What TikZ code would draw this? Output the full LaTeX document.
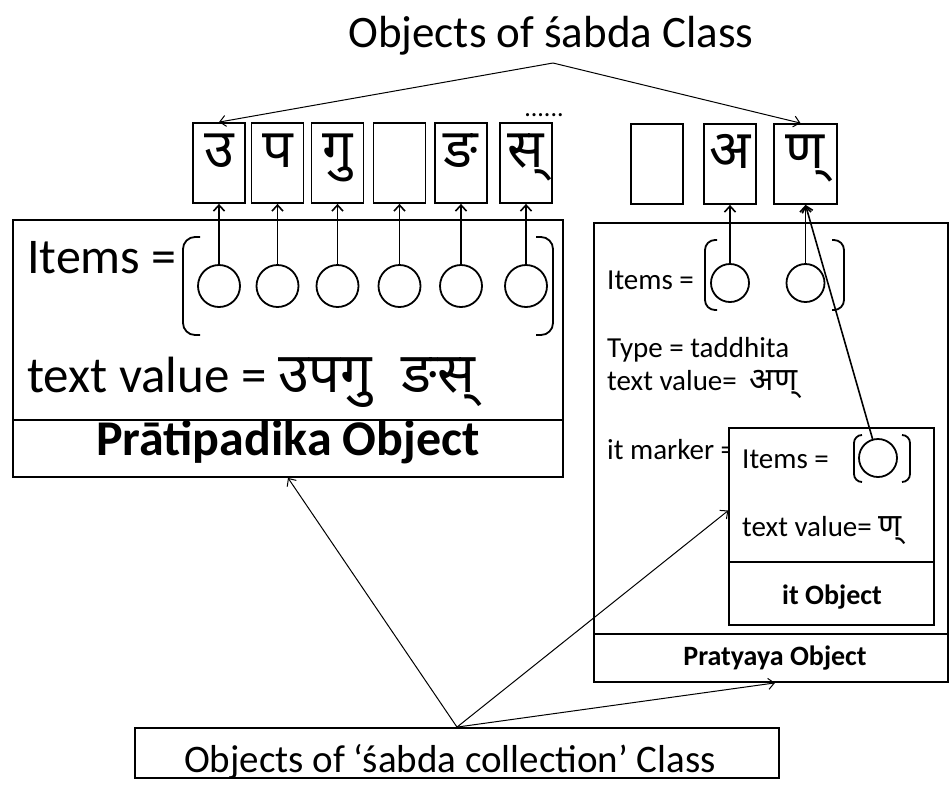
\documentclass[tikz,border=0pt]{standalone}
\usepackage{fontspec}
\setmainfont{Carlito}
\newfontfamily\deva[Script=Devanagari]{Noto Sans}
\usetikzlibrary{arrows.meta}
\newcommand\fsz[1]{\fontsize{#1}{#1}\selectfont}
\tikzset{
  >={Straight Barb[length=6pt,width=11pt]},
  charbox/.style={draw,line width=1.8pt,minimum width=52,inner sep=0,
    text height=44,text depth=36,font=\deva\fsz{54}},
  item/.style={draw,circle,line width=1.8pt,inner sep=0,minimum size=42},
  smallitem/.style={item,minimum size=38},
  objbox/.style={draw,line width=1.8pt,inner sep=0,fill=white},
  txt/.style={anchor=base west,inner sep=0},
  link/.style={->,line width=1.6pt},
  coll/.style={->,line width=1pt},
  brak/.style={line width=1.8pt,rounded corners=12},
}
\begin{document}
\begin{tikzpicture}[x=1pt,y=-1pt]
\useasboundingbox (0,0) rectangle (950,785);
% title
\node[anchor=base,font=\fsz{45}] (title) at (551,47) {Objects of śabda Class};
\coordinate (apex) at (553,63);

% letters of the word
\node[charbox] (c1) at (219,163) {उ};
\node[charbox] (c2) at (277.5,163) {प};
\node[charbox] (c3) at (337.5,163) {गु};
\node[charbox] (c4) at (399.5,163) {};
\node[charbox] (c5) at (461,163) {ङ};
\node[charbox] (c6) at (526,163) {स्};
\node[anchor=base,font=\fsz{26}] (dots) at (544,116) {......};
\node[charbox] (c7) at (657,164) {};
\node[charbox] (c8) at (730,164) {अ};
\node[charbox,minimum width=63] (c9) at (805.5,164) {ण्};

\draw[->,line width=1pt] (apex) -- (c1.north);
\draw[->,line width=1pt] (apex) -- ([xshift=-5pt]c9.north);

% pratipadika object
\node[objbox,minimum width=550,minimum height=257] (prati) at (288,348.5) {};
\draw[line width=1.2pt] (13,420) -- (563,420);
\node[txt,font=\fsz{50}] (pitems) at (27,273) {Items =};
\draw[brak] (200,237) -- (183,237) -- (183,335) -- (200,335);
\draw[brak] (536,237) -- (553,237) -- (553,335) -- (536,335);
\foreach \i/\x in {1/219,2/277.5,3/337.5,4/399.5,5/461,6/526}{
  \node[item] (p\i) at (\x,286) {};
  \draw[link] (p\i) -- (c\i);
}
\node[txt,font=\fsz{51}] (pval) at (27,392) {text value = {\deva\fsz{56}उपगु~~ङस्}};
\node[anchor=base,font=\bfseries\fsz{50}] (pname) at (288,455) {Prātipadika Object};

% pratyaya object
\node[objbox,minimum width=354,minimum height=459] (praty) at (771,452.5) {};
\draw[line width=1.2pt] (594,634) -- (948,634);
\node[txt,font=\fsz{29}] (ritems) at (607,289) {Items =};
\draw[brak,rounded corners=10] (717,240) -- (705,240) -- (705,310) -- (717,310);
\draw[brak,rounded corners=10] (832,240) -- (844,240) -- (844,310) -- (832,310);
\node[smallitem] (r1) at (730,283) {};
\node[smallitem] (r2) at (805.5,283) {};
\draw[link] (r1) -- (c8);
\draw[link] (r2) -- (c9);
\node[txt,font=\fsz{29}] (rtype) at (607,357) {Type = taddhita};
\node[txt,font=\fsz{29}] (rval) at (607,390) {text value=~ {\deva\fsz{32}अण्}};
\node[txt,font=\fsz{29}] (rit) at (607,459) {it marker =};
\node[anchor=base,font=\bfseries\fsz{28}] (rname) at (775,665) {Pratyaya Object};

% it object
\node[objbox,line width=1.4pt,minimum width=205,minimum height=197] (itobj) at (831.5,526.5) {};
\draw[line width=1.2pt] (729,562) -- (934,562);
\node[txt,font=\fsz{29}] (iitems) at (742,468) {Items =};
\draw[brak,rounded corners=8] (862,435) -- (854,435) -- (854,482) -- (862,482);
\draw[brak,rounded corners=8] (902,435) -- (910,435) -- (910,482) -- (902,482);
\node[smallitem] (i1) at (878,458) {};
\draw[link] (i1) -- (c9.south);
\node[txt,font=\fsz{29}] (ival) at (742,536) {text value= {\deva\fsz{32}ण्}};
\node[anchor=base,font=\bfseries\fsz{28}] (iname) at (832,604) {it Object};

% collection
\node[objbox,minimum width=644,minimum height=50,text height=44,text depth=6,
  font=\fsz{39}] (collect) at (457,753) {Objects of ‘śabda collection’ Class\kern14pt};
\draw[coll] (collect.north) -- (prati.south);
\draw[coll] (collect.north) -- ([yshift=16pt]itobj.west);
\draw[coll] (collect.north) -- ([xshift=4pt]praty.south);
\end{tikzpicture}
\end{document}
